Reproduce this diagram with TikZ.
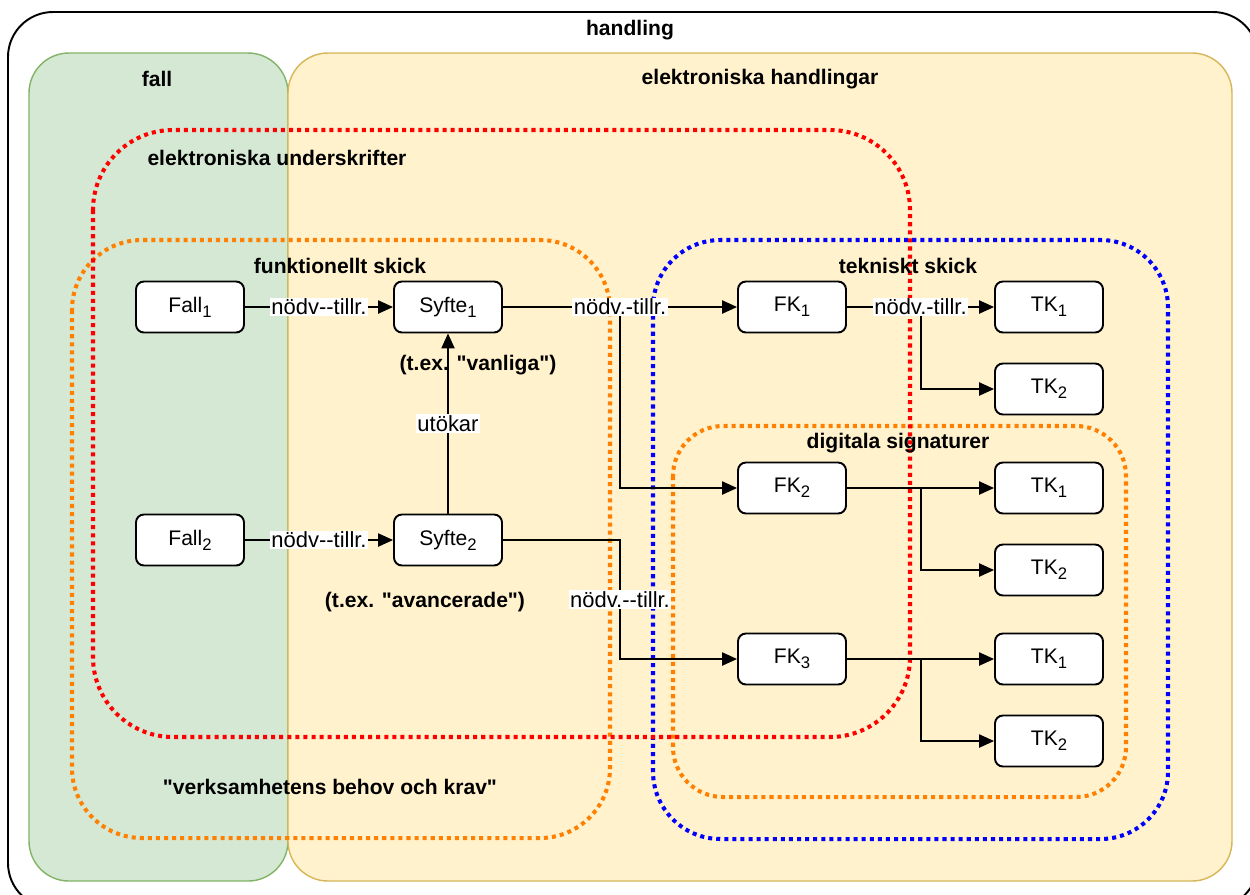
\documentclass[tikz,border=0pt]{standalone}
\usepackage{fontspec}
\setmainfont{Liberation Sans}[Ligatures=TeXOff]
\usepackage{xcolor}
\usepackage{tikz}
\usetikzlibrary{shapes, arrows, arrows.meta, positioning}
\definecolor{fallgreen}{HTML}{D5E8D4}
\definecolor{fallborder}{HTML}{82B366}
\definecolor{docyellow}{HTML}{FFF2CC}
\definecolor{docborder}{HTML}{D6B656}
\definecolor{dotorange}{HTML}{FF8000}
\tikzstyle{line} = [draw, line width=0.9pt, -{Triangle[length=8.5pt,width=7.5pt]}]
\tikzstyle{block}=[draw, rectangle, rounded corners=4.5pt, fill=white, line width=1.1pt, minimum width=2.16cm, minimum height=1.02cm, font=\fontsize{12pt}{14pt}\selectfont]
\tikzstyle{lbl}=[fill=white, inner sep=0.8pt, font=\fontsize{12.5pt}{14pt}\selectfont]
\tikzstyle{title}=[font=\fontsize{12pt}{14pt}\selectfont\bfseries]
\tikzstyle{dots}=[line width=2.3pt, dash pattern=on 2.3pt off 2.3pt]
\def\sub#1{\raisebox{-0.45ex}{\fontsize{9.5pt}{10pt}\selectfont#1}}

\begin{document}
\begin{tikzpicture}[x=0.02cm, y=-0.02cm]
		\useasboundingbox (0,0) rectangle (1250,894);
		% containers
		\draw[line width=1.1pt, rounded corners=0.9cm] (8,12) rectangle (1258,908);
		\draw[fill=fallgreen, draw=fallborder, line width=0.8pt, rounded corners=0.8cm] (29,53) rectangle (288,881);
		\draw[fill=docyellow, draw=docborder, line width=0.8pt, rounded corners=0.8cm] (288,53) rectangle (1232,881);
		\draw[dots, draw=dotorange, rounded corners=1.4cm] (72,240) rectangle (610,838);
		\draw[dots, draw=blue, rounded corners=1.35cm] (653,240) rectangle (1168,839);
		\draw[dots, draw=dotorange, rounded corners=1cm] (673,426) rectangle (1126,797);
		\draw[dots, draw=red, rounded corners=1.6cm] (93,130) rectangle (910,737);
		% titles
		\node[title] (handling) at (630,30) {handling};
		\node[title] (fall) at (157,79) {fall};
		\node[title] (ehand) at (760,79) {elektroniska handlingar};
		\node[title] (eunder) at (277,158) {elektroniska underskrifter};
		\node[title] (funk) at (340,266) {funktionellt skick};
		\node[title] (tekn) at (908,266) {tekniskt skick};
		\node[title] (digi) at (898,443) {digitala signaturer};
		\node[title] (vanl) at (478,365) {(t.ex. "vanliga")};
		\node[title] (avanc) at (425,602) {(t.ex. "avancerade")};
		\node[title] (verks) at (330,787) {"verksamhetens behov och krav"};
		% boxes
		\node[block] (F1) at (190,307) {Fall\sub{1}};
		\node[block] (S1) at (448,307) {Syfte\sub{1}};
		\node[block] (FK1) at (792,307) {FK\sub{1}};
		\node[block] (TK1a) at (1049,307) {TK\sub{1}};
		\node[block] (TK2a) at (1049,389) {TK\sub{2}};
		\node[block] (F2) at (190,540) {Fall\sub{2}};
		\node[block] (S2) at (448,540) {Syfte\sub{2}};
		\node[block] (FK2) at (792,488) {FK\sub{2}};
		\node[block] (TK1b) at (1049,488) {TK\sub{1}};
		\node[block] (TK2b) at (1049,570) {TK\sub{2}};
		\node[block] (FK3) at (792,659) {FK\sub{3}};
		\node[block] (TK1c) at (1049,659) {TK\sub{1}};
		\node[block] (TK2c) at (1049,741) {TK\sub{2}};
		% branch points
		\coordinate (b1) at (620,307);
		\coordinate (b2) at (620,540);
		\coordinate (b3) at (921,307);
		\coordinate (b4) at (921,488);
		\coordinate (b5) at (921,659);
		% connectors
		\draw[line] (b1) |- (FK2);
		\draw[line] (b3) |- (TK2a);
		\draw[line] (b4) |- (TK2b);
		\draw[line] (b5) |- (TK2c);
		\draw[line] (F1) -- node[lbl]{nödv--tillr.} (S1);
		\draw[line] (F2) -- node[lbl]{nödv--tillr.} (S2);
		\draw[line] (S1) -- node[lbl]{nödv.-tillr.} (FK1);
		\draw[line] (FK1) -- node[lbl]{nödv.-tillr.} (TK1a);
		\draw[line] (FK2) -- (TK1b);
		\draw[line] (FK3) -- (TK1c);
		\draw[line] (S2) -- (b2) |- node[lbl, pos=0.25]{nödv.--tillr.} (FK3);
		\draw[line] (S2) -- node[lbl]{utökar} (S1);
	\end{tikzpicture}
\end{document}
